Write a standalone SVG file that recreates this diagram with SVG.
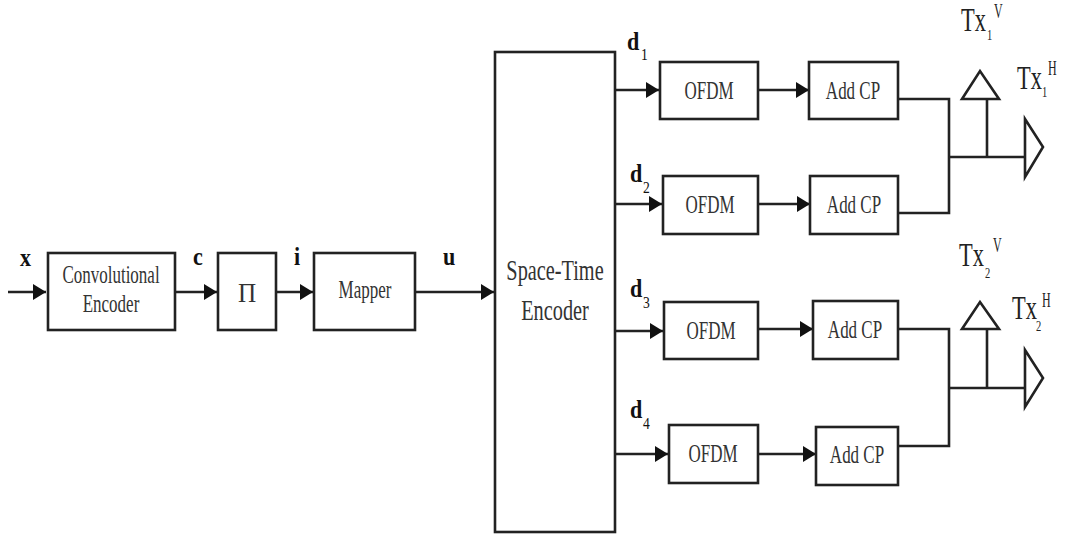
<svg xmlns="http://www.w3.org/2000/svg" width="1070" height="538" viewBox="0 0 1070 538">
<defs>
<marker id="arr" markerUnits="userSpaceOnUse" markerWidth="14" markerHeight="16" refX="13" refY="8" orient="auto">
<path d="M0,0 L13,8 L0,16 Z" fill="#111"/>
</marker>
<style>
.box{fill:#fff;stroke:#222;stroke-width:2.6}
.ln{fill:none;stroke:#222;stroke-width:2.6}
.ant{fill:#fff;stroke:#222;stroke-width:2.6;stroke-linejoin:miter}
.lbl{font-family:"Liberation Serif",serif;font-size:25px;fill:#333;text-anchor:middle}
.big{font-family:"Liberation Serif",serif;font-size:29px;fill:#333;text-anchor:middle}
.sig{font-family:"Liberation Serif",serif;font-size:26px;font-weight:bold;fill:#111}
.sub{font-family:"Liberation Serif",serif;font-size:17px;fill:#111}
.tx{font-family:"Liberation Serif",serif;font-size:34px;fill:#222}
.txs{font-family:"Liberation Serif",serif;font-size:15px;fill:#222}
.txp{font-family:"Liberation Serif",serif;font-size:20px;fill:#222}
</style>
</defs>

<g id="connectors">
<line class="ln" x1="8" y1="292" x2="46" y2="292" marker-end="url(#arr)"/>
<line class="ln" x1="175" y1="292" x2="217" y2="292" marker-end="url(#arr)"/>
<line class="ln" x1="276" y1="292" x2="313" y2="292" marker-end="url(#arr)"/>
<line class="ln" x1="415" y1="292" x2="494" y2="292" marker-end="url(#arr)"/>
<line class="ln" x1="615" y1="90" x2="659" y2="90" marker-end="url(#arr)"/>
<line class="ln" x1="615" y1="204" x2="662" y2="204" marker-end="url(#arr)"/>
<line class="ln" x1="615" y1="331" x2="663" y2="331" marker-end="url(#arr)"/>
<line class="ln" x1="615" y1="454" x2="668" y2="454" marker-end="url(#arr)"/>
<line class="ln" x1="758" y1="90" x2="809" y2="90" marker-end="url(#arr)"/>
<line class="ln" x1="758" y1="204" x2="810" y2="204" marker-end="url(#arr)"/>
<line class="ln" x1="758" y1="329" x2="813" y2="329" marker-end="url(#arr)"/>
<line class="ln" x1="758" y1="454" x2="816" y2="454" marker-end="url(#arr)"/>
<polyline class="ln" points="898,99 949,99 949,213 898,213"/>
<polyline class="ln" points="898,329 949,329 949,446 898,446"/>
<line class="ln" x1="949" y1="157" x2="1025" y2="157"/>
<line class="ln" x1="987" y1="157" x2="987" y2="99"/>
<line class="ln" x1="949" y1="388" x2="1025" y2="388"/>
<line class="ln" x1="987" y1="388" x2="987" y2="329"/>
</g>

<g id="conv-encoder">
<rect class="box" x="48" y="253" width="127" height="77"/>
<text class="lbl" transform="translate(111,283) scale(0.68,1)">Convolutional</text>
<text class="lbl" transform="translate(111,312) scale(0.68,1)">Encoder</text>
</g>
<g id="interleaver">
<rect class="box" x="218" y="253" width="58" height="77"/>
<text class="lbl" transform="translate(247,302) scale(0.9,1)" style="font-size:28px">Π</text>
</g>
<g id="mapper">
<rect class="box" x="314" y="253" width="101" height="77"/>
<text class="lbl" transform="translate(365,298) scale(0.68,1)">Mapper</text>
</g>
<g id="st-encoder">
<rect class="box" x="495" y="52" width="120" height="480"/>
<text class="big" transform="translate(555,280) scale(0.7,1)">Space-Time</text>
<text class="big" transform="translate(555,320) scale(0.7,1)">Encoder</text>
</g>

<g id="ofdm1"><rect class="box" x="660" y="62" width="98" height="57"/><text class="lbl" transform="translate(709,99) scale(0.68,1)">OFDM</text></g>
<g id="ofdm2"><rect class="box" x="663" y="176" width="95" height="58"/><text class="lbl" transform="translate(710,213) scale(0.68,1)">OFDM</text></g>
<g id="ofdm3"><rect class="box" x="664" y="302" width="94" height="57"/><text class="lbl" transform="translate(711,339) scale(0.68,1)">OFDM</text></g>
<g id="ofdm4"><rect class="box" x="669" y="425" width="89" height="58"/><text class="lbl" transform="translate(713,462) scale(0.68,1)">OFDM</text></g>

<g id="addcp1"><rect class="box" x="809" y="62" width="89" height="57"/><text class="lbl" transform="translate(853,99) scale(0.68,1)">Add CP</text></g>
<g id="addcp2"><rect class="box" x="810" y="176" width="88" height="58"/><text class="lbl" transform="translate(854,213) scale(0.68,1)">Add CP</text></g>
<g id="addcp3"><rect class="box" x="813" y="301" width="85" height="58"/><text class="lbl" transform="translate(855,338) scale(0.68,1)">Add CP</text></g>
<g id="addcp4"><rect class="box" x="816" y="427" width="82" height="58"/><text class="lbl" transform="translate(857,463) scale(0.68,1)">Add CP</text></g>

<g id="ant1v"><polygon class="ant" points="962,99 999,99 980,71"/></g>
<g id="ant1h"><polygon class="ant" points="1025,119 1025,177 1043,147"/></g>
<g id="ant2v"><polygon class="ant" points="962,329 999,329 980,302"/></g>
<g id="ant2h"><polygon class="ant" points="1025,350 1025,407 1043,378"/></g>

<g id="labels">
<text class="sig" transform="translate(20,266) scale(0.85,1)">x</text>
<text class="sig" transform="translate(193,265) scale(0.85,1)">c</text>
<text class="sig" transform="translate(294,265) scale(0.85,1)">i</text>
<text class="sig" transform="translate(443,265) scale(0.85,1)">u</text>
<text class="sig" transform="translate(627,50) scale(0.85,1)">d</text><text class="sub" transform="translate(641,60) scale(0.8,1)">1</text>
<text class="sig" transform="translate(630,182) scale(0.85,1)">d</text><text class="sub" transform="translate(643,193) scale(0.8,1)">2</text>
<text class="sig" transform="translate(630,297) scale(0.85,1)">d</text><text class="sub" transform="translate(643,308) scale(0.8,1)">3</text>
<text class="sig" transform="translate(630,418) scale(0.85,1)">d</text><text class="sub" transform="translate(643,429) scale(0.8,1)">4</text>

<text class="tx" transform="translate(961,31) scale(0.66,1)">Tx</text><text class="txs" transform="translate(987,40) scale(0.7,1)">1</text><text class="txp" transform="translate(994,18) scale(0.6,1)">V</text>
<text class="tx" transform="translate(1017,89) scale(0.66,1)">Tx</text><text class="txs" transform="translate(1042,97) scale(0.7,1)">1</text><text class="txp" transform="translate(1048,75) scale(0.6,1)">H</text>
<text class="tx" transform="translate(959,266) scale(0.66,1)">Tx</text><text class="txs" transform="translate(985,278) scale(0.7,1)">2</text><text class="txp" transform="translate(993,252) scale(0.6,1)">V</text>
<text class="tx" transform="translate(1012,319) scale(0.66,1)">Tx</text><text class="txs" transform="translate(1036,331) scale(0.7,1)">2</text><text class="txp" transform="translate(1042,307) scale(0.6,1)">H</text>
</g>
</svg>
